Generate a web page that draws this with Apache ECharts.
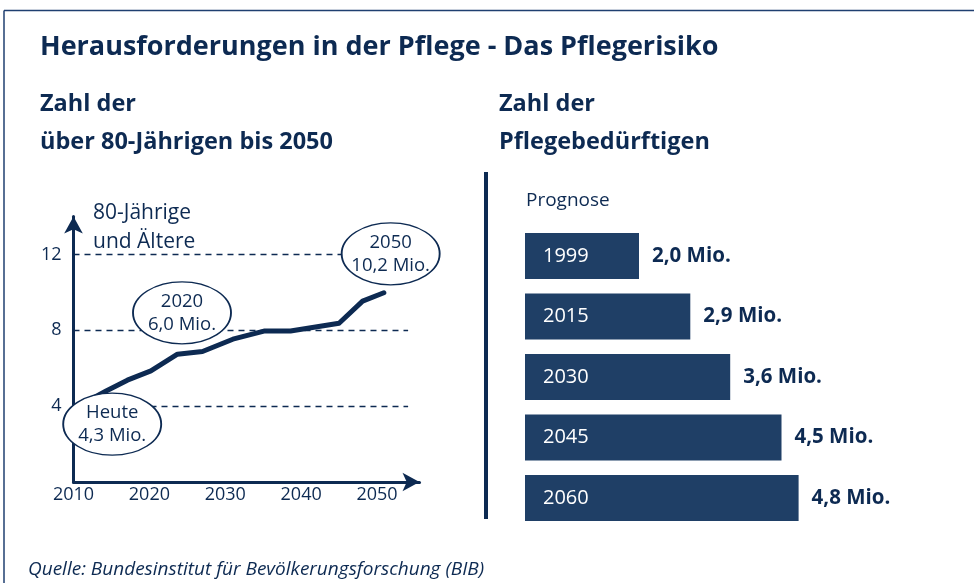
<!DOCTYPE html>
<html>
<head>
<meta charset="utf-8">
<script src="https://cdn.jsdelivr.net/npm/echarts@6/dist/echarts.min.js"></script>
<style>
html,body{margin:0;padding:0;background:#fff}
#chart{width:974px;height:583px}
</style>
</head>
<body>
<div id="chart"></div>
<script>
// über 80-Jährige in Mio.
var years = [2012, 2014.3, 2017.1, 2020.2, 2023.7, 2027, 2031, 2035.1, 2038.6, 2045, 2048.1, 2050.9];
var olds = [4.3, 4.8, 5.37, 5.86, 6.74, 6.88, 7.53, 7.96, 7.96, 8.37, 9.54, 9.98];
var yTicks = [4, 8, 12];
// Ellipsen
var noteX = [2015.1, 2024.3, 2051.8];
var noteY = [3.05, 8.92, 12.03];
var noteText = ['Heute\n4,3 Mio.', '2020\n6,0 Mio.', '2050\n10,2 Mio.'];
// Pflegebedürftige
var pflegeJahre = ['1999', '2015', '2030', '2045', '2060'];
var pflegeMio = [2.0, 2.9, 3.6, 4.5, 4.8];

var navy = '#0d2a52';
var barColor = '#1f3f66';
var font = '"Open Sans", sans-serif';

var chart = echarts.init(document.getElementById('chart'));

var lineData = years.map(function (y, i) { return [y, olds[i]]; });
var notes = noteX.map(function (x, i) { return [x, noteY[i], noteText[i]]; });
var dashes = yTicks.map(function (v) {
  return [{ coord: [2010, v] }, { coord: [2054.1, v] }];
});

var option = {
  animation: false,
  grid: [
    { left: 73.5, top: 216.5, width: 346, height: 265.5 },
    { left: 525, top: 225.75, width: 399, height: 302.5 }
  ],
  xAxis: [{
    gridIndex: 0, type: 'value', min: 2010, max: 2055.6, interval: 10,
    axisLine: { lineStyle: { color: navy, width: 3 }, symbol: ['none', 'arrow'], symbolSize: [14, 17] },
    axisTick: { show: false },
    splitLine: { show: false },
    axisLabel: {
      color: navy, fontSize: 18, fontFamily: font, margin: 4, showMaxLabel: false,
      formatter: function (v) { return v % 10 === 0 ? String(v) : ''; }
    }
  }, {
    gridIndex: 1, type: 'value', min: 0, max: 7, show: false
  }],
  yAxis: [{
    gridIndex: 0, type: 'value', min: 0, max: 14, interval: 4,
    axisLine: { show: true, lineStyle: { color: navy, width: 3 }, symbol: ['none', 'arrow'], symbolSize: [14, 17] },
    axisTick: { show: false },
    splitLine: { show: false },
    axisLabel: {
      color: navy, fontSize: 18, fontFamily: font, margin: 12, showMaxLabel: false,
      formatter: function (v) { return yTicks.indexOf(v) >= 0 ? String(v) : ''; }
    }
  }, {
    gridIndex: 1, type: 'category', data: pflegeJahre, inverse: true, show: false
  }],
  series: [{
    type: 'line', xAxisIndex: 0, yAxisIndex: 0, data: lineData,
    showSymbol: false, smooth: false,
    lineStyle: { color: navy, width: 5, join: 'round', cap: 'round' },
    markLine: {
      silent: true, symbol: 'none', label: { show: false },
      lineStyle: { color: navy, width: 1.3, type: [6, 5] },
      data: dashes
    },
    z: 2
  }, {
    type: 'scatter', xAxisIndex: 0, yAxisIndex: 0, data: notes,
    symbol: 'circle', symbolSize: [98, 62],
    itemStyle: { color: '#fff', borderColor: navy, borderWidth: 1.5, opacity: 1 },
    label: {
      show: true, position: 'inside', color: navy, fontSize: 18.5, lineHeight: 23, fontFamily: font,
      formatter: function (p) { return p.data[2]; }
    },
    z: 5
  }, {
    type: 'bar', xAxisIndex: 1, yAxisIndex: 1, data: pflegeMio, barWidth: 46,
    itemStyle: { color: barColor },
    label: {
      show: true, position: 'insideLeft', distance: 18, color: '#fff', fontSize: 20, fontFamily: font,
      formatter: function (p) { return p.name; }
    }
  }, {
    type: 'bar', xAxisIndex: 1, yAxisIndex: 1, data: pflegeMio, barWidth: 46, barGap: '-100%',
    itemStyle: { color: 'rgba(0,0,0,0)' },
    label: {
      show: true, position: 'right', distance: 13, color: navy, fontSize: 20.5, fontWeight: 'bold', fontFamily: font,
      formatter: function (p) { return p.value.toFixed(1).replace('.', ',') + ' Mio.'; }
    }
  }],
  graphic: [
    { type: 'line', shape: { x1: 4, y1: 10.5, x2: 974, y2: 10.5 }, style: { stroke: '#1f3f70', lineWidth: 1.5 } },
    { type: 'line', shape: { x1: 4, y1: 10.5, x2: 4, y2: 583 }, style: { stroke: '#1f3f70', lineWidth: 1.5 } },
    { type: 'rect', shape: { x: 484, y: 172, width: 4, height: 347 }, style: { fill: navy } },
    { type: 'text', x: 40, y: 47, style: { text: 'Herausforderungen in der Pflege - Das Pflegerisiko', font: 'bold 27px ' + font, fill: navy, verticalAlign: 'middle', textVerticalAlign: 'middle' } },
    { type: 'text', x: 40, y: 104, style: { text: 'Zahl der', font: 'bold 23.5px ' + font, fill: navy, verticalAlign: 'middle', textVerticalAlign: 'middle' } },
    { type: 'text', x: 40, y: 142, style: { text: 'über 80-Jährigen bis 2050', font: 'bold 23.5px ' + font, fill: navy, verticalAlign: 'middle', textVerticalAlign: 'middle' } },
    { type: 'text', x: 499, y: 104, style: { text: 'Zahl der', font: 'bold 23.5px ' + font, fill: navy, verticalAlign: 'middle', textVerticalAlign: 'middle' } },
    { type: 'text', x: 499, y: 142, style: { text: 'Pflegebedürftigen', font: 'bold 23.5px ' + font, fill: navy, verticalAlign: 'middle', textVerticalAlign: 'middle' } },
    { type: 'text', x: 93, y: 228, style: { text: '80-Jährige\nund Ältere', font: '21px ' + font, lineHeight: 29, fill: navy, verticalAlign: 'middle', textVerticalAlign: 'middle' } },
    { type: 'text', x: 526, y: 201, style: { text: 'Prognose', font: '19px ' + font, fill: navy, verticalAlign: 'middle', textVerticalAlign: 'middle' } },
    { type: 'text', x: 28, y: 570, style: { text: 'Quelle: Bundesinstitut für Bevölkerungsforschung (BIB)', font: 'italic 19px ' + font, fill: navy, verticalAlign: 'middle', textVerticalAlign: 'middle' } }
  ]
};
chart.setOption(option);
</script>
</body>
</html>
